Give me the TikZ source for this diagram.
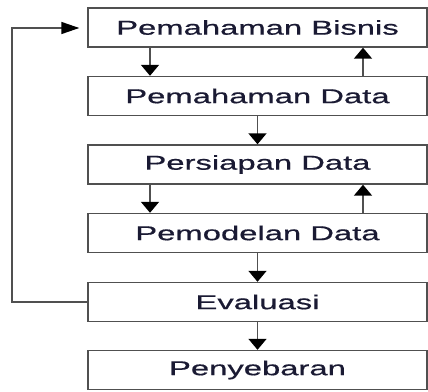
\documentclass[tikz,border=0pt]{standalone}
\usepackage{fontspec}
\newfontfamily\boxfont[FakeStretch=1.64,FakeBold=0.6]{Liberation Sans}
\usetikzlibrary{arrows.meta}
\definecolor{linegray}{HTML}{505050}
\definecolor{textnavy}{HTML}{1A1A33}
\begin{document}
\begin{tikzpicture}[x=1pt,y=-1pt,
  stage/.style={draw=linegray,line width=1.4pt,fill=white,minimum width=339pt,minimum height=39pt,
    inner sep=0pt,text=textnavy,font=\boxfont\fontsize{20}{24}\selectfont},
  vflow/.style={draw=linegray,line width=1.6pt,-{Triangle[width=18pt,length=11pt,color=black]}},
  hflow/.style={draw=linegray,line width=1.4pt,-{Triangle[width=12pt,length=18pt,color=black]}}]
\useasboundingbox (0,0) rectangle (428,391);
\node[stage] (b1) at (257.5,27.5) {Pemahaman Bisnis};
\node[stage] (b2) at (257.5,96) {Pemahaman Data};
\node[stage] (b3) at (257.5,164.5) {Persiapan Data};
\node[stage] (b4) at (257.5,233) {Pemodelan Data};
\node[stage] (b5) at (257.5,302) {Evaluasi};
\node[stage] (b6) at (257.5,370) {Penyebaran};
% down arrows left
\draw[vflow] (b1.south -| 150,0) -- (b2.north -| 150,0);
\draw[vflow] (b3.south -| 150,0) -- (b4.north -| 150,0);
% up arrows right
\draw[vflow] (b2.north -| 363,0) -- (b1.south -| 363,0);
\draw[vflow] (b4.north -| 363,0) -- (b3.south -| 363,0);
% center arrows
\draw[vflow] (b2.south) -- (b3.north);
\draw[vflow] (b4.south) -- (b5.north);
\draw[vflow] (b5.south) -- (b6.north);
% feedback
\coordinate (fbl) at (12,302);
\coordinate (fbt) at (12,28);
\draw[hflow,shorten >=8pt] (b5.west) -- (fbl) -- (fbt) -- (b1.west |- fbt);
\end{tikzpicture}
\end{document}
